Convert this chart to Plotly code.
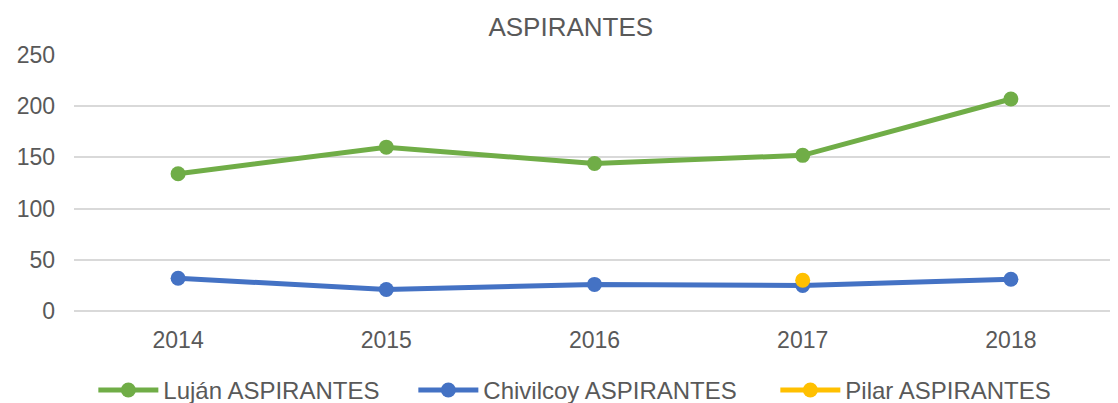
import plotly.graph_objects as go

years = ["2014", "2015", "2016", "2017", "2018"]
lujan = [134, 160, 144, 152, 207]
chivilcoy = [32, 21, 26, 25, 31]
pilar = [None, None, None, 30, None]
y_ticks = [0, 50, 100, 150, 200, 250]

fig = go.Figure()
fig.add_trace(go.Scatter(x=years, y=lujan, name="Luján ASPIRANTES", mode="lines+markers",
                         legendwidth=245,
                         line=dict(color="#70AD47", width=5), marker=dict(size=15, color="#70AD47")))
fig.add_trace(go.Scatter(x=years, y=chivilcoy, name="Chivilcoy ASPIRANTES", mode="lines+markers",
                         legendwidth=287,
                         line=dict(color="#4472C4", width=5), marker=dict(size=15, color="#4472C4")))
fig.add_trace(go.Scatter(x=years, y=pilar, name="Pilar ASPIRANTES", mode="lines+markers",
                         legendwidth=212,
                         line=dict(color="#FFC000", width=5), marker=dict(size=15, color="#FFC000")))

fig.update_layout(
    width=1110, height=395,
    margin=dict(l=66, r=3, t=47, b=92, autoexpand=False),
    paper_bgcolor="white", plot_bgcolor="white",
    font=dict(family="Liberation Sans, Arial, sans-serif", size=23, color="#595959"),
    title=dict(text="ASPIRANTES", x=0.507, xanchor="center", y=0.952, yanchor="middle",
               font=dict(size=26, color="#595959")),
    showlegend=True,
    legend=dict(orientation="h", x=0.484, xanchor="center", y=-0.31, yanchor="middle",
                font=dict(size=24, color="#595959"), itemwidth=60, tracegroupgap=0),
    xaxis=dict(type="category", range=[-0.5, 4.5], showgrid=False, showline=False,
               ticks="", ticklabelstandoff=13, tickfont=dict(size=23, color="#595959")),
    yaxis=dict(range=[0, 250], tickvals=y_ticks, showgrid=True, gridcolor="#D9D9D9", gridwidth=2,
               zeroline=True, zerolinecolor="#D9D9D9", zerolinewidth=2, showline=False, ticks="",
               ticklabelstandoff=18, tickfont=dict(size=23, color="#595959")),
)

fig.write_html("out.html")
